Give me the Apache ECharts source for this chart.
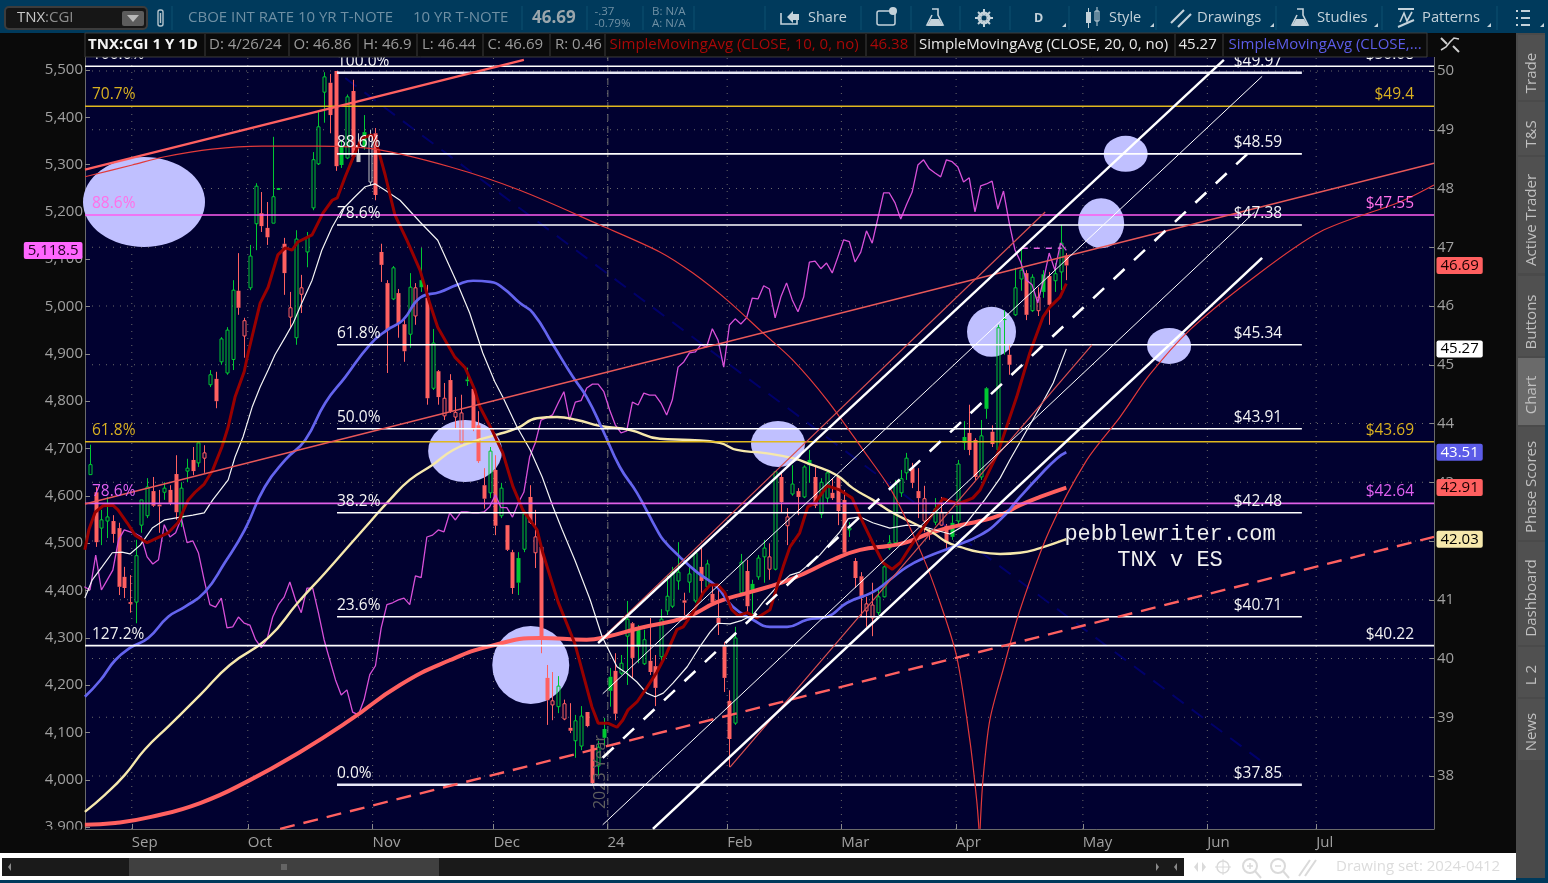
<!DOCTYPE html>
<html><head><meta charset="utf-8">
<style>html,body{margin:0;padding:0;background:#003a5c;overflow:hidden}#c{width:1548px;height:883px}</style>
<script src="https://cdn.jsdelivr.net/npm/echarts@6/dist/echarts.min.js"></script>
</head><body><div id="c"></div>
<script>
// ---------- candles (TNX, one row per trading day, first bar 22 Aug 2023, last 26 Apr 2024)
const opens=[43.13,42.83,42.22,42.34,42.34,42.22,41.39,40.96,40.96,42.27,42.43,42.85,42.62,42.83,42.87,43.14,42.39,43.19,43.38,43.33,43.41,44.66,44.76,45.05,44.86,45.09,46.26,45.49,46.31,47.4,47.58,47.33,47.41,47.99,47.06,45.81,45.46,46.2,46.92,47.67,48.42,49.64,49.8,50,48.71,48.52,49.66,48.6,48.96,48.11,48.94,46.92,46.39,46.12,46.22,45.69,45.52,45.83,46.44,46.14,44.6,44.89,44.13,44.74,44.11,43.67,44.75,44.59,43.97,42.95,42.82,43.21,42.43,42.27,41.81,41.71,41.86,42.75,41.8,41.9,39.67,39.21,39.18,38.97,38.82,38.6,38.51,39.09,38.53,38.17,38.8,39.69,39.79,39.75,40.38,40.6,40.49,39.91,39.96,39.87,40.03,40.81,40.89,41.32,40.99,41.3,40.98,41.56,41.22,41.1,40.69,40.21,39.28,38.9,41.12,41.49,41.27,41.39,41.73,41.52,41.52,43.09,42.26,42.8,42.85,42.75,43.38,43.09,42.46,42.73,42.82,43.09,42.7,42.19,41.66,41.4,40.81,40.69,40.78,41.05,41.88,41.97,42.82,43.16,43.24,42.85,42.34,42.19,42.32,42.27,42.26,42.31,42.34,43.77,43.84,43.72,43.09,44.6,43.86,43.55,45.78,45.17,45.85,46.46,46.56,45.92,45.92,46.54,46.51,46.43,46.58,46.86];
const closes=[43.3,41.98,42.36,42.41,42.12,41.22,41.2,40.93,41.75,42.7,42.92,42.6,42.59,42.9,42.65,42.49,42.9,43.24,43.19,43.67,43.5,44.83,44.38,45.44,45.59,46.27,45.97,45.75,46.85,48.04,47.36,47.17,47.86,48,46.56,45.97,47.14,46.31,47.17,48.49,49.05,49.9,49.25,48.38,48.4,49.56,48.54,48.45,48.71,48.91,47.89,46.7,45.59,46.65,45.71,45.23,46.32,46.31,46.32,44.43,45.37,44.45,44.43,44.2,44.19,44.18,44.72,43.91,43.36,42.72,43.53,42.26,42.9,41.85,41.2,41.29,42.46,42.31,42.07,40.32,39.29,39.28,39.53,39.23,38.77,38.94,39.02,38.85,37.88,38.49,38.65,39.45,39.06,39.92,40.67,40.01,40.2,40.32,39.77,39.5,40.67,41.06,41.46,41.47,40.95,41.44,41.8,41.32,41.61,40.95,40.6,39.67,38.63,40.35,41.64,40.89,41.12,41.71,41.88,41.73,43.18,42.66,42.41,42.97,42.75,43.26,43.29,42.6,43,43.16,42.73,42.51,41.8,42.22,41.37,41.03,40.93,40.91,41.05,41.56,41.97,42.97,43.06,43.41,42.99,42.73,42.72,42.14,42.55,42.49,41.97,42.07,43.31,43.67,43.55,43.09,43.79,44.25,43.65,45.63,45.76,45,46.31,46.61,45.85,46.49,46.15,46.24,46.02,46.55,47.07,46.69];
const lows=[43.13,41.9,41.93,42.05,41.97,41.08,41.03,40.78,40.6,42.14,42.39,42.58,42.14,42.7,42.61,42.36,42.24,43,43.12,43.26,43.16,44.62,44.26,45,44.83,44.91,45.85,45.12,46.27,46.95,47.26,47.04,47.41,47.98,46.19,45.64,45.34,45.88,46.66,47.63,48.4,49.12,48.94,48.3,48.35,48.5,48.49,48.45,48.66,48.06,47.8,46.41,44.86,46.1,45.46,45.05,45.29,45.68,46.24,44.32,44.57,44.32,44.06,44.18,43.92,43.67,44.64,43.87,43.33,42.55,42.73,42.1,42.39,41.83,41.1,41.08,41.81,42.29,41.54,40.09,38.87,38.95,39.07,38.95,38.73,38.31,38.44,38.83,37.85,38.02,38.49,39.18,38.95,39.72,39.55,39.67,39.92,39.89,39.72,39.19,39.92,40.74,40.86,41.17,40.74,41.12,40.95,41.03,41.17,40.91,40.4,39.43,38.15,38.87,41.12,40.79,40.69,41.34,41.29,41.34,41.5,42.48,41.93,42.77,42.44,42.73,42.99,42.56,42.39,42.65,42.7,42.27,41.8,42.07,41.2,40.71,40.54,40.38,40.74,41.04,41.85,41.93,42.75,43.04,42.9,42.39,42.15,42.02,42.27,42.26,41.85,42.02,42.27,43.55,43.46,43.04,43.04,44.08,43.6,43.52,45.17,44.83,45.83,46.26,45.76,45.9,45.83,46.14,45.68,46.24,46.27,46.44];
const highs=[43.64,42.92,42.53,42.75,42.44,42.31,41.56,41.42,42.02,42.7,43.07,43.09,42.87,43,42.95,43.46,43,43.4,43.6,43.67,43.63,44.91,44.88,45.47,45.64,46.44,46.9,45.8,47.04,48.09,47.94,47.77,48.88,48.01,47.16,46.24,47.29,46.53,47.26,48.62,49.3,49.98,49.95,50,48.83,49.6,49.85,48.94,49.25,49,49.03,47.06,46.44,46.68,46.29,45.76,46.56,46.39,46.99,46.36,45.61,44.91,44.69,44.84,44.45,44.49,44.95,44.59,44.21,43.24,43.6,43.46,42.99,42.27,41.85,41.81,42.46,42.95,42.53,41.93,39.89,39.77,39.7,39.3,39.24,39.04,39.19,39.09,38.53,38.6,38.99,39.84,40.09,40.06,40.98,40.62,40.57,40.49,40.69,40.06,40.84,41.42,41.56,41.98,41.12,41.56,41.83,41.88,41.68,41.25,41.25,40.28,39.46,40.54,41.78,41.68,41.34,41.76,42.02,41.96,43.18,43.18,42.56,43.29,42.9,43.29,43.55,43.29,43.07,43.21,43.07,43.12,42.87,42.32,41.71,41.47,41.05,41.29,41.17,41.63,42.1,43.04,43.21,43.5,43.33,43.24,42.94,42.22,42.73,42.75,42.29,42.44,43.38,44.04,44.32,43.75,44.06,44.62,43.97,45.68,45.93,45.34,46.65,46.99,46.61,46.54,46.32,46.61,46.58,46.73,47.38,46.9];
const unchangedBars=[47,49];

// ---------- moving averages, [bar, value]
const sma10=[[-0.9,41.85],[-0.2,42.19],[0.9,42.49],[2.3,42.6],[4,42.61],[4.9,42.53],[6.5,42.31],[7.9,42.1],[10,41.97],[11.7,42.05],[13.7,42.14],[15.4,42.31],[17.2,42.7],[18.4,42.83],[20,42.97],[21.5,43.21],[23.1,43.6],[24.2,43.94],[25.4,44.45],[27,44.88],[27.7,45.2],[29.8,46.05],[31.2,46.32],[32.9,46.87],[34.2,46.99],[35.4,46.95],[36.4,47.09],[38.9,47.21],[40.8,47.58],[42.4,47.8],[43.3,47.84],[44.7,48.2],[46.4,48.6],[47.6,48.86],[49.4,48.91],[50.4,48.69],[51.7,48.23],[53.4,47.55],[55.5,47.12],[57.8,46.61],[59.5,46.05],[60.9,45.64],[63.9,45.13],[65.7,44.95],[67.4,44.57],[68.3,44.28],[70.4,43.89],[72.3,43.5],[74.1,42.92],[75.8,42.53],[78.3,42.19],[79.3,41.8],[82,40.96],[84.9,40.26],[87.9,39.18],[89,38.9],[90.7,38.9],[92.3,38.83],[93.3,38.95],[94.2,39.12],[95.8,39.26],[97.5,39.5],[99.3,39.77],[101,40.09],[102.8,40.49],[103.9,40.54],[105.6,40.78],[107.4,41.12],[108.6,41.25],[110,41.25],[111.2,41.12],[112.4,40.83],[113.5,40.73],[115.1,40.78],[116.8,40.69],[119.1,40.83],[121.4,41.56],[122.6,41.9],[124.3,42.14],[125.7,42.58],[127,42.65],[129.1,42.94],[131.3,42.87],[133.5,42.73],[134.9,42.41],[137.1,41.97],[138.9,41.63],[140.5,41.52],[141.9,41.63],[144.8,42.07],[146.6,42.32],[149.4,42.72],[152,42.63],[154.6,42.73],[155.9,42.87],[159,43.5],[162.3,44.45],[164.6,45.2],[166.9,45.81],[168.1,45.98],[169.9,46.15],[171,46.38]];
const sma20=[[-0.9,41.03],[0.4,41.34],[2.1,41.56],[3.9,41.8],[5.6,41.81],[7,41.78],[8.8,41.93],[10.9,42.22],[13.1,42.36],[16.1,42.41],[18,42.44],[20,42.48],[21.5,42.7],[24.2,43.04],[25.4,43.43],[26.8,43.77],[28.4,44.28],[29.8,44.62],[31.2,44.91],[32.4,45.17],[34.2,45.47],[35.6,45.71],[37.1,46.05],[38.9,46.44],[40.6,46.95],[42.4,47.34],[44.1,47.63],[46.4,47.86],[48.2,48.03],[49.9,48.08],[51.7,47.97],[54.3,47.8],[57.8,47.43],[60.9,47.12],[64.3,46.39],[66.5,45.88],[68.8,45.2],[70.9,44.71],[72.3,44.45],[74.8,43.94],[77.1,43.55],[79.2,43.09],[81.1,42.58],[82.7,42.19],[84.9,41.68],[87.6,41],[89.7,40.37],[92.3,39.86],[94,39.75],[95.8,39.6],[97.5,39.41],[99,39.35],[100.4,39.41],[102.1,39.58],[104.6,39.86],[106.8,40.2],[108.6,40.45],[110,40.6],[112.1,40.59],[114.2,40.65],[116.1,40.74],[117.9,40.96],[120.3,41.22],[122.6,41.42],[124.3,41.47],[127.8,41.76],[130.1,42.02],[131.3,42.15],[132.8,42.38],[134.9,42.41],[137.1,42.31],[140.1,42.22],[143.1,42.27],[145.4,42.26],[147.6,42.2],[150.6,42.12],[153.2,42.27],[156.7,42.7],[159.4,43.07],[161.1,43.38],[166.4,44.28],[168.7,44.69],[171,45.27]];
const sma50=[[-0.9,39.35],[1.8,39.63],[4.4,39.97],[7,40.18],[10.2,40.35],[13.7,40.71],[16.6,40.88],[20.1,41.13],[23.6,41.63],[27.1,42.19],[30.6,42.92],[34.2,43.38],[37.7,43.72],[41.2,44.35],[44.7,44.79],[49,45.34],[52,45.59],[54.8,45.76],[57.8,46.14],[61.3,46.24],[64.3,46.36],[67.1,46.43],[70.1,46.41],[72.3,46.31],[75.3,46.05],[77.6,45.88],[81.1,45.34],[84.6,44.79],[87,44.45],[89.8,43.89],[92.8,43.26],[95.8,42.82],[99.3,42.19],[100.4,42.02],[103.3,41.73],[106.3,41.47],[109.8,41.22],[112.6,40.88],[116.1,40.66],[119.1,40.54],[122.1,40.54],[125.6,40.66],[129.1,40.71],[132.6,40.95],[137.1,41.13],[140.1,41.34],[143.1,41.56],[146.6,41.73],[151.1,41.9],[155.9,42.1],[159.4,42.36],[162.9,42.75],[166.4,43.12],[169.4,43.41],[171,43.51]];
const sma100=[[-0.9,37.39],[2.6,37.68],[6.1,38.02],[9.6,38.45],[14,38.87],[19.3,39.38],[24.5,39.89],[31.2,40.35],[36.4,40.95],[41.2,41.46],[45.9,41.98],[49,42.32],[52.5,42.7],[56,43.04],[59.9,43.29],[63.6,43.55],[67.1,43.69],[71.3,43.81],[74.8,43.92],[78.3,44.09],[81.8,44.11],[85.3,44.06],[89.3,43.96],[94.6,43.89],[99.8,43.74],[105.1,43.72],[110.3,43.67],[113.3,43.55],[117.9,43.5],[123.1,43.41],[126.6,43.29],[130.8,43.12],[133.6,42.9],[137.1,42.7],[140.6,42.48],[144.1,42.31],[147.6,42.14],[150.1,41.98],[152.4,41.9],[155.9,41.81],[159.4,41.78],[162.9,41.8],[166.4,41.88],[171,42.03]];
const sma200=[[-0.9,37.17],[4.4,37.2],[10.5,37.3],[19.3,37.54],[28,37.93],[36.8,38.41],[45.5,38.95],[54.3,39.55],[63,39.97],[70.1,40.21],[78.8,40.35],[87,40.32],[90.5,40.37],[96.3,40.52],[104.6,40.71],[109.8,40.96],[115.6,41.13],[121.4,41.3],[125.6,41.47],[130.1,41.68],[134.9,41.85],[140.1,41.92],[143.1,41.98],[147.6,42.15],[152.4,42.27],[155.9,42.34],[159.4,42.44],[162.9,42.61],[166.4,42.75],[171,42.91]];

// ---------- ES overlay (left scale), from bar -1 to bar 171
const esClose=[4408,4401,4475,4401,4422,4443,4507,4528,4524,4520,4513,4471,4456,4465,4539,4513,4522,4553,4501,4505,4479,4422,4370,4365,4384,4321,4323,4344,4331,4327,4296,4279,4296,4344,4370,4386,4418,4380,4353,4405,4405,4353,4296,4253,4211,4179,4190,4143,4137,4169,4222,4241,4321,4370,4374,4380,4384,4370,4431,4427,4513,4517,4528,4524,4564,4549,4566,4566,4564,4564,4566,4577,4602,4575,4575,4555,4585,4608,4682,4712,4760,4765,4771,4796,4820,4760,4798,4801,4828,4836,4836,4820,4782,4750,4733,4737,4798,4792,4817,4813,4813,4796,4771,4803,4872,4883,4902,4904,4919,4915,4953,4929,4872,4961,4974,4963,4976,5018,5016,5044,5037,4976,5020,5050,5014,4989,5020,5094,5096,5080,5092,5071,5105,5141,5137,5094,5115,5160,5134,5187,5240,5240,5219,5185,5215,5242,5299,5310,5291,5282,5274,5310,5306,5295,5263,5272,5200,5255,5259,5265,5206,5244,5177,5120,5094,5056,5046,5008,5056,5113,5077,5134,5118.5];
const esFirstBar=-1;

// ---------- drawings
const fibLevels=[49.97,48.59,47.38,45.34,43.91,42.48,40.71,37.85];
const fibPct=['100.0%','88.6%','78.6%','61.8%','50.0%','38.2%','23.6%','0.0%'];
const fibPrice=['$49.97','$48.59','$47.38','$45.34','$43.91','$42.48','$40.71','$37.85'];
const esFibLevels=[50.08,49.4,47.55,43.69,42.64,40.22];
const esFibPct=['100.0%','70.7%','88.6%','61.8%','78.6%','127.2%'];
const esFibPrice=['$50.08','$49.4','$47.55','$43.69','$42.64','$40.22'];
const salmonHigh=[[-0.88,48.32],[76,50.19]];
const salmonThin=[[-0.88,42.63],[235.4,48.43]];
const salmonDash=[[33.3,37.1],[235.4,42.07]];
const channelTop=[[89,40.26],[198.6,50.19]];
const channelTopRed=[[89,40.28],[167.3,47.6]];
const channelThinA=[[89.8,39.4],[205.3,49.91]];
const channelMid=[[89.8,38.31],[203.5,48.66]];
const channelThinB=[[89.8,37.17],[204,47.6]];
const channelLow=[[98.6,37.1],[205.3,46.82]];
const channelLowRed=[[112.1,38.15],[175.5,45.34]];
const navyDash=[[44.7,49.88],[204.9,38.27]];
const arcLeft=[[-0.88,48.2],[7.4,48.4],[13.1,48.54],[21.4,48.67],[30.1,48.72],[39.9,48.72],[49.9,48.67],[63,48.37],[75.3,47.97],[89.3,47.38],[99.8,46.92],[105.6,46.56],[111.6,46.1],[117.9,45.54],[123.1,45.08],[129.1,44.4],[135.4,43.55],[140.6,42.82],[145.9,41.73],[148.9,40.95],[151.8,40.03],[154.1,38.61],[155.3,37.59],[155.7,37.1]];
const arcRight=[[155.9,37.1],[156.4,37.93],[157.6,38.95],[159.9,39.8],[162.9,40.83],[168.1,42.19],[174.6,43.38],[180.4,44.11],[185.6,44.83],[192.6,45.59],[203.2,46.44],[215.4,47.26],[229.4,47.77],[235.4,48.06]];
const esHighDash=[[163.2,5123],[170.2,5123]];
const circleCentres=[[9.46,47.77],[65.7,43.53],[77.2,39.89],[120.5,43.65],[157.9,45.56],[177.1,47.41],[181.4,48.59],[189,45.32]];

// ---------- axes
const monthTicks=[7.32,27.64,49.5,70.67,90.63,111.6,131.6,151.7,173.9,195.7,214.76];
const monthNames=['Sep','Oct','Nov','Dec','24','Feb','Mar','Apr','May','Jun','Jul'];
const tnxTicks=[38,39,40,41,42,43,44,45,46,47,48,49,50];
const esTicks=[3900,4000,4100,4200,4300,4400,4500,4600,4700,4800,4900,5000,5100,5200,5300,5400,5500];
const yearBar=90.7;
const lastValues={sma10:46.38,sma20:45.27,sma50:43.51,sma100:42.03,sma200:42.91,close:46.69,es:5118.5};

const XMIN=-0.876,XMAX=235.4,RMIN=37.098,RMAX=50.647,LMIN=3896,LMAX=5578;
const RED='#ff6060',GREEN='#00c832',GRAY='#c4c4c4',NAVY='#010130';

function candleItem(params,api){
  const i=api.value(0),o=api.value(1),c=api.value(2),l=api.value(3),h=api.value(4);
  const col=unchangedBars.includes(i)?GRAY:(i===0||c>closes[i-1]?GREEN:RED);
  const x=Math.round(api.coord([i,o])[0])+0.5;
  const yo=api.coord([i,o])[1],yc=api.coord([i,c])[1],yl=api.coord([i,l])[1],yh=api.coord([i,h])[1];
  const top=Math.min(yo,yc),bot=Math.max(yo,yc),hollow=c>=o;
  const kids=[
    {type:'line',shape:{x1:x,y1:yh,x2:x,y2:top},style:{stroke:col,lineWidth:1}},
    {type:'line',shape:{x1:x,y1:bot,x2:x,y2:yl},style:{stroke:col,lineWidth:1}}
  ];
  if(hollow){kids.push({type:'rect',shape:{x:x-1.5,y:top,width:3,height:Math.max(bot-top,1)},style:{fill:'none',stroke:col,lineWidth:1}});}
  else{kids.push({type:'rect',shape:{x:x-2,y:top,width:4,height:Math.max(bot-top,1)},style:{fill:col}});}
  return {type:'group',children:kids};
}
function ln(data,color,width,opt){
  return Object.assign({type:'line',xAxisIndex:0,yAxisIndex:1,data:data,symbol:'none',showSymbol:false,silent:true,animation:false,clip:true,z:7,
    lineStyle:{color:color,width:width,type:(opt&&opt.dash)||'solid'}},opt&&opt.extra||{});
}
const dotted={color:'#6a6a6a',width:1,type:[1,6]};
const series=[];
tnxTicks.forEach(v=>series.push({type:'line',yAxisIndex:1,data:[[XMIN,v],[XMAX,v]],symbol:'none',silent:true,animation:false,z:1,lineStyle:dotted}));
monthTicks.forEach(m=>series.push({type:'line',yAxisIndex:1,data:[[m,RMIN],[m,RMAX]],symbol:'none',silent:true,animation:false,z:1,lineStyle:dotted}));
series.push({type:'line',yAxisIndex:1,data:[[yearBar,RMIN],[yearBar,RMAX]],symbol:'none',silent:true,animation:false,z:1,lineStyle:{color:'#707070',width:1,type:[7,5]}});
// ellipses
const circleSizes=[[122,90],[74,62],[77,78],[54,46],[49,50],[46,50],[44,36],[44,36]];
series.push({type:'scatter',yAxisIndex:1,silent:true,animation:false,z:2,symbol:'circle',
  data:circleCentres.map((d,i)=>({value:d,symbolSize:circleSizes[i]})),itemStyle:{color:'#c0c0ff',opacity:1}});
// candles
series.push({type:'custom',name:'TNX',yAxisIndex:1,silent:true,animation:false,z:3,renderItem:candleItem,encode:{x:0,y:[1,2,3,4]},
  data:opens.map((o,i)=>[i,o,closes[i],lows[i],highs[i]])});
// ES overlay
series.push({type:'line',name:'ES',xAxisIndex:0,yAxisIndex:0,data:esClose.map((v,i)=>[i+esFirstBar,v]),symbol:'none',silent:true,animation:false,z:4,lineStyle:{color:'#d850d8',width:1.3}});
series.push({type:'line',xAxisIndex:0,yAxisIndex:0,data:esHighDash,symbol:'none',silent:true,animation:false,z:4,lineStyle:{color:'#e060e0',width:1.5,type:[6,6]}});
// moving averages
const smoothMA={smooth:0.5};
series.push(ln(sma200,'#ff6060',4,{extra:Object.assign({z:5,name:'SMA200'},smoothMA)}));
series.push(ln(sma100,'#f6e8ac',2.4,{extra:Object.assign({z:5,name:'SMA100'},smoothMA)}));
series.push(ln(sma50,'#6464ee',2.7,{extra:Object.assign({z:5,name:'SMA50'},smoothMA)}));
series.push(ln(sma20,'#f4f4f4',1.2,{extra:{z:5,name:'SMA20'}}));
series.push(ln(sma10,'#980000',3,{extra:{z:5,name:'SMA10'}}));
// fib lines
const fibL=43.26,fibR=212.26;
fibLevels.forEach((v,i)=>series.push(ln([[fibL,v],[fibR,v]],(i===0||i===7)?'#e8e8f6':'#ffffff',(i===0||i===7)?2.4:1.6,{extra:{z:6}})));
const esFibColors=['#ffffff','#e0b81e','#ff5cf0','#e0b81e','#e060e8','#ffffff'];
esFibLevels.forEach((v,i)=>series.push(ln([[XMIN,v],[XMAX,v]],esFibColors[i],1.6,{extra:{z:6}})));
// trend lines
series.push(ln(navyDash,'#00006a',2,{dash:[14,10],extra:{z:2}}));
series.push(ln(arcLeft,'#e23a3a',1.2,{extra:{smooth:0.3}}));
series.push(ln(arcRight,'#e23a3a',1.2,{extra:{smooth:0.3}}));
series.push(ln(salmonHigh,'#ff6060',2.4));
series.push(ln(salmonThin,'#e85858',1.3));
series.push(ln(salmonDash,'#ff6060',2.4,{dash:[15,9]}));
series.push(ln(channelTopRed,'#d85050',1.2));
series.push(ln(channelLowRed,'#d85050',1.2));
series.push(ln(channelTop,'#ffffff',2.4));
series.push(ln(channelThinA,'#ffffff',1));
series.push(ln(channelMid,'#ffffff',2.6,{dash:[15,13]}));
series.push(ln(channelThinB,'#ffffff',1));
series.push(ln(channelLow,'#ffffff',2.6));
// level labels
function labels(vals,texts,x,align,colors){
  return {type:'scatter',yAxisIndex:1,silent:true,animation:false,z:8,symbolSize:1,itemStyle:{color:'transparent',opacity:1},
    data:vals.map((v,i)=>({value:[x,v],label:{show:true,formatter:texts[i],position:'top',distance:3,align:align,
      color:Array.isArray(colors)?colors[i]:colors,fontFamily:'Open Sans',fontSize:15.5}}))};
}
series.push(labels(fibLevels,fibPct,43.26,'left','#f4f4f4'));
series.push(labels(fibLevels,fibPrice,208.8,'right','#f4f4f4'));
const esLabelColors=['#ffffff','#d8b020','#ff70e8','#d8b020','#e060f0','#f0f0f0'];
series.push(labels(esFibLevels,esFibPct,0.35,'left',esLabelColors));
series.push(labels(esFibLevels,esFibPrice,231.9,'right',esLabelColors));
// value badges
function badge(val,axis,x,pos,bg,fg){
  return {type:'scatter',yAxisIndex:axis,silent:true,animation:false,z:60,clip:false,symbolSize:1,itemStyle:{color:'transparent',opacity:1},data:[[x,val]],
    label:{show:true,position:pos,distance:2,formatter:String(val.toFixed(axis?2:1)).replace('5118.5','5,118.5'),backgroundColor:bg,color:fg,padding:[2,4,0,4],borderRadius:2,fontFamily:'Open Sans',fontSize:15}};
}
series.push(badge(lastValues.close,1,XMAX,'right','#ff6060','#1a0000'));
series.push(badge(lastValues.sma20,1,XMAX,'right','#ffffff','#000000'));
series.push(badge(lastValues.sma50,1,XMAX,'right','#5c5ce8','#ffffff'));
series.push(badge(lastValues.sma200,1,XMAX,'right','#ff6060','#1a0000'));
series.push(badge(lastValues.sma100,1,XMAX,'right','#f6e8ac','#000000'));
series.push(badge(lastValues.es,0,XMIN,'left','#ff66ff','#220022'));

// ---------- window chrome
const FF='Open Sans';
const g=[];
const T=(x,y,s,size,color,o)=>g.push({type:'text',x:x,y:y,z:(o&&o.z)||100,rotation:(o&&o.rot)||0,silent:true,
  style:Object.assign({text:s,fontFamily:(o&&o.ff)||FF,fontSize:size,fontWeight:(o&&o.w)||'normal',fill:color,align:(o&&o.a)||'left',verticalAlign:'middle'},o&&o.style||{})});
const R=(x,y,w,h,c,o)=>g.push({type:'rect',z:(o&&o.z)||100,silent:true,shape:{x:x,y:y,width:w,height:h,r:(o&&o.r)||0},style:{fill:c,stroke:(o&&o.s)||null,lineWidth:(o&&o.lw)||1}});
const L=(x1,y1,x2,y2,c,w)=>g.push({type:'line',z:101,silent:true,shape:{x1:x1,y1:y1,x2:x2,y2:y2},style:{stroke:c,lineWidth:w||1}});
const P=(pts,c,stroke)=>g.push({type:stroke?'polyline':'polygon',z:101,silent:true,shape:{points:pts},style:stroke?{stroke:c,lineWidth:1.6,fill:null}:{fill:c}});

// mask for the clipped bottom left-axis label
R(0,829.5,84.5,24,'#0a0a0a',{z:50});

// top bar
R(0,0,1548,33,'#003a5c');
R(5,7,142,22,'#161616',{r:4,s:'#3c3c3c',lw:2});
T(17,18,'TNX',15,'#c8c8c8');T(45,18,':CGI',15,'#8e8e8e');
R(122,11,22,15,'#5c5c5c',{r:2});P([[127,15],[139,15],[133,22]],'#b8b8b8');
R(158,10,5,16,'none',{s:'#b4c4cc',lw:1.4,r:2});L(160.5,13,160.5,23,'#b4c4cc',1.4);
[172,522,587,643,694,765].forEach(x=>L(x,6,x,30,'#0c5070',1));
T(188,18,'CBOE INT RATE 10 YR T-NOTE',15,'#6f90a4');
T(413,18,'10 YR T-NOTE',15,'#6f90a4');
T(532,18,'46.69',17,'#9aa6ac',{w:'bold'});
T(594.5,12,'-.37',11.5,'#6f90a4');T(594.5,24,'-0.79%',11.5,'#6f90a4');
T(652,12,'B: N/A',11.5,'#6f90a4');T(652,24,'A: N/A',11.5,'#6f90a4');
[861,911,960,1010,1069,1156,1276,1382,1497].forEach(x=>L(x,6,x,30,'#0c5070',1));
// toolbar icons + text
P([[781,13],[781,24],[797,24],[797,19]],'#c4d2da',true);P([[787,17],[793,11],[793,14],[799,14],[799,20],[793,20],[793,23]],'#c4d2da');
T(808,18,'Share',14.5,'#c4d2da');
R(877,11,18,14,'none',{s:'#c4d2da',lw:1.5,r:2});R(889,7,8,8,'#c4d2da',{r:4});
P([[932,9],[938,9],[938,15],[943,25],[927,25],[932,15]],'#c4d2da',true);P([[931,19],[939,19],[943,26],[927,26]],'#c4d2da');
g.push({type:'circle',z:101,silent:true,shape:{cx:984,cy:18,r:5},style:{fill:null,stroke:'#c4d2da',lineWidth:3}});
L(984,9,984,27,'#c4d2da',2);L(975,18,993,18,'#c4d2da',2);L(978,12,990,24,'#c4d2da',2);L(990,12,978,24,'#c4d2da',2);
g.push({type:'circle',z:101,silent:true,shape:{cx:984,cy:18,r:2.5},style:{fill:'#003a5c'}});
T(1034,18,'D',12.5,'#c4d2da',{w:'bold'});
R(1086,12,5,11,'#c4d2da');L(1088.5,8,1088.5,28,'#c4d2da',1);R(1095,11,4,10,'none',{s:'#c4d2da'});L(1097,7,1097,26,'#c4d2da',1);
T(1109,18,'Style',14.5,'#c4d2da');
L(1171,23,1184,10,'#c4d2da',2.2);L(1178,27,1191,14,'#c4d2da',2.2);
T(1197,18,'Drawings',14.8,'#c4d2da');
P([[1297,9],[1303,9],[1303,15],[1308,25],[1292,25],[1297,15]],'#c4d2da',true);P([[1296,19],[1304,19],[1308,26],[1292,26]],'#c4d2da');
T(1317,18,'Studies',14.8,'#c4d2da');
L(1398,9,1414,9,'#c4d2da',2);P([[1400,22],[1404,13],[1407,21],[1412,12]],'#c4d2da',true);L(1398,27,1414,20,'#c4d2da',2);
T(1422,18,'Patterns',14.8,'#c4d2da');
[11,18,25].forEach(y=>{R(1516,y-1,2,2,'#c4d2da');L(1521,y,1530,y,'#c4d2da',2);});
[1062,1150,1270,1374,1487,1540].forEach(x=>P([[x,27],[x+4,27],[x+4,23]],'#c4d2da'));

// study header row
R(0,33,1516,24,'#0a0a0a');
R(85,33,1342,24,'#0a0a0a',{s:'#3c3c3c',lw:1});
[205,289,358,417,483,550,605,866,915,1175,1223].forEach(x=>L(x,34,x,56,'#3c3c3c',1));
T(88,45,'TNX:CGI 1 Y 1D',15,'#f4f4f4',{w:'bold'});
T(209,45,'D: 4/26/24',15,'#9a9a9a');T(293.5,45,'O: 46.86',15,'#9a9a9a');T(363,45,'H: 46.9',15,'#9a9a9a');
T(422,45,'L: 46.44',15,'#9a9a9a');T(487.5,45,'C: 46.69',15,'#9a9a9a');T(555,45,'R: 0.46',15,'#9a9a9a');
T(609.5,45,'SimpleMovingAvg (CLOSE, 10, 0, no)',15,'#a80808');T(870,45,'46.38',15,'#a80808');
T(919,45,'SimpleMovingAvg (CLOSE, 20, 0, no)',15,'#e8e8e8');T(1178.5,45,'45.27',15,'#e8e8e8');
T(1228.5,45,'SimpleMovingAvg (CLOSE,...',15,'#5c5ce8');
P([[1441,50],[1446,47],[1450,42],[1454,38],[1459,39]],'#d0d0d0',true);L(1441,38,1447,44,'#d0d0d0',2);L(1453,46,1459,52,'#d0d0d0',2);

// chart text
T(1170,534,'pebblewriter.com',22,'#f0f0f0',{ff:'Liberation Mono',a:'center',z:40});
T(1170,560,'TNX v ES',22,'#f0f0f0',{ff:'Liberation Mono',a:'center',z:40});
T(600,772,'2023 Year',16,'#5e5e5e',{rot:Math.PI/2,a:'center',z:4});

// bottom bars
R(0,853,1516,27,'#ffffff');
R(0,880,1548,3,'#003a5c');
R(2,858,1182,18,'#1a1a1a');
R(129,858,310,18,'#404040');
[282,284,286].forEach(x=>L(x,864,x,870,'#8a8a8a',1));
P([[8,867],[11,863],[11,871]],'#8a8a8a');P([[1156,863],[1159,867],[1156,871]],'#8a8a8a');P([[1177,863],[1174,867],[1177,871]],'#8a8a8a');
['#dadada'].forEach(c=>{
  P([[1194,867],[1198,862],[1198,872]],c);P([[1206,867],[1202,862],[1202,872]],c);
  g.push({type:'circle',z:101,silent:true,shape:{cx:1223,cy:867,r:6},style:{fill:null,stroke:c,lineWidth:1.5}});L(1215,867,1231,867,c,1);L(1223,859,1223,875,c,1);
  g.push({type:'circle',z:101,silent:true,shape:{cx:1250,cy:866,r:7},style:{fill:null,stroke:c,lineWidth:2}});L(1255,871,1261,878,c,2);L(1247,866,1253,866,c,1.5);L(1250,863,1250,869,c,1.5);
  g.push({type:'circle',z:101,silent:true,shape:{cx:1278,cy:866,r:7},style:{fill:null,stroke:c,lineWidth:2}});L(1283,871,1289,878,c,2);L(1275,866,1281,866,c,1.5);
  L(1299,876,1310,860,c,2);L(1305,876,1316,860,c,2);
});
T(1336,867,'Drawing set: 2024-0412',15,'#dcdcdc');

// right tabs
R(1516,33,32,850,'#003a5c');
R(1516,33,29,845,'#4a4a4a');
const tabNames=['Trade','T&S','Active Trader','Buttons','Chart','Phase Scores','Dashboard','L 2','News'];
const tabTops=[35,102,157,276,358,427,542,647,699];
const tabBots=[100,155,273,356,425,540,645,697,760];
const tabTextY=[73,134,220,322,395,487,598,675,732];
tabNames.forEach((n,i)=>{
  R(1518,tabTops[i],27,tabBots[i]-tabTops[i],n==='Chart'?'#6a6a6a':'#505050');
  T(1532,tabTextY[i],n,15,'#c0c0c0',{rot:Math.PI/2,a:'center',z:102});
});

const axisText={color:'#a0a0a0',fontFamily:FF,fontSize:15};
const option={
  backgroundColor:'#0a0a0a',animation:false,
  grid:{left:85,right:114,top:33,height:796,show:true,backgroundColor:NAVY,borderWidth:0,z:0},
  xAxis:{type:'value',min:XMIN,max:XMAX,z:3,
    axisLine:{show:true,onZero:false,lineStyle:{color:'#6a6a6a'}},splitLine:{show:false},
    axisTick:{show:true,inside:true,length:5,customValues:monthTicks,lineStyle:{color:'#8a8a8a'}},
    axisLabel:Object.assign({},axisText,{customValues:monthTicks,align:'left',margin:6,showMinLabel:true,showMaxLabel:true,hideOverlap:false,
      formatter:v=>monthNames[monthTicks.indexOf(v)]||''})},
  yAxis:[
    {type:'value',position:'left',min:LMIN,max:LMAX,z:1,
     axisLine:{show:true,onZero:false,lineStyle:{color:'#6a6a6a'}},splitLine:{show:false},
     axisTick:{show:true,inside:true,length:5,customValues:esTicks,lineStyle:{color:'#8a8a8a'}},
     axisLabel:Object.assign({},axisText,{customValues:esTicks,margin:2,padding:[5,0,0,0],formatter:v=>v.toLocaleString('en-US')})},
    {type:'value',position:'right',min:RMIN,max:RMAX,z:1,
     axisLine:{show:true,onZero:false,lineStyle:{color:'#6a6a6a'}},splitLine:{show:false},
     axisTick:{show:true,inside:true,length:5,customValues:tnxTicks,lineStyle:{color:'#8a8a8a'}},
     axisLabel:Object.assign({},axisText,{customValues:tnxTicks,margin:3,padding:[4,0,0,0],formatter:v=>String(v)})}
  ],
  tooltip:{show:false},
  series:series,
  graphic:{elements:g}
};
const chart=echarts.init(document.getElementById('c'),null,{renderer:'canvas',width:1548,height:883});
chart.setOption(option);
</script></body></html>
